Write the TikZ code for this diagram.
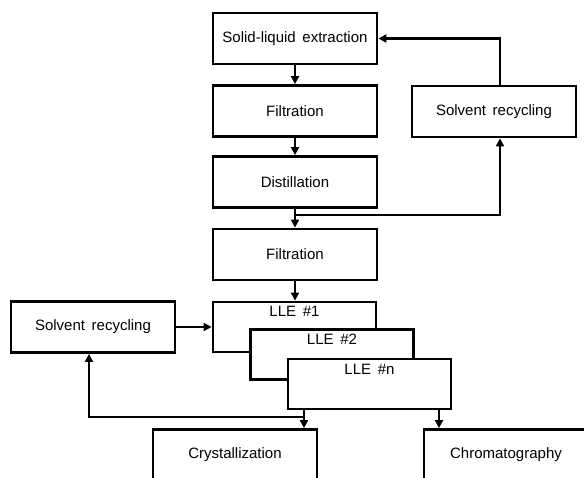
\documentclass[tikz,border=0pt]{standalone}
\usepackage{fontspec}
\setmainfont[WordSpace={1.6}]{Liberation Sans}
\usetikzlibrary{arrows.meta}
\begin{document}
\begin{tikzpicture}[x=1pt, y=-1pt, >={Triangle[length=8pt,width=8pt]},
  box/.style={draw, line width=2.8pt, fill=white, minimum width=164pt,
    minimum height=51pt, inner sep=0pt, font=\fontsize{15}{18}\selectfont},
  llebox/.style={box, minimum width=163pt, minimum height=0pt,
    text height=15pt, text depth=35pt},
  flow/.style={->, line width=2.8pt}]
\useasboundingbox (0,0) rectangle (584,478);
\clip (0,0) rectangle (584,478);
% main column
\node[box] (sle) at (295,38.5) {Solid-liquid extraction};
\node[box] (filt1) at (295,111) {Filtration};
\node[box] (dist) at (295,182) {Distillation};
\node[box] (filt2) at (295,254.5) {Filtration};
\node[box] (rec1) at (494,111.5) {Solvent recycling};
% extraction stages
\node[llebox] (lle1) at (294.5,327) {LLE \#1};
\node[llebox] (lle2) at (332,354.5) {LLE \#2};
\node[llebox] (llen) at (369.5,384) {LLE \#n};
\node[box] (rec2) at (93,327) {Solvent recycling};
\node[box] (cryst) at (235,455) {Crystallization};
\node[box] (chrom) at (506,455) {Chromatography};
\coordinate (j1) at (295,215);
\coordinate (j2) at (304,417);
\coordinate (j3) at (439,417);
\draw[flow] (sle) -- (filt1);
\draw[flow] (filt1) -- (dist);
\draw[flow] (dist) -- (filt2);
\draw[flow] (j1) -| ([xshift=6pt]rec1.south);
\draw[flow] ([xshift=6pt]rec1.north) |- (sle);
\draw[flow] (filt2.south) -- (filt2.south |- lle1.north);
\draw[flow] (rec2) -- (lle1);
\draw[flow] (llen.south -| j2) -- (j2 |- cryst.north);
\draw[flow] (j2) -| ([xshift=-4pt]rec2.south);
\draw[flow] (llen.south -| j3) -- (j3 |- chrom.north);
\end{tikzpicture}
\end{document}
